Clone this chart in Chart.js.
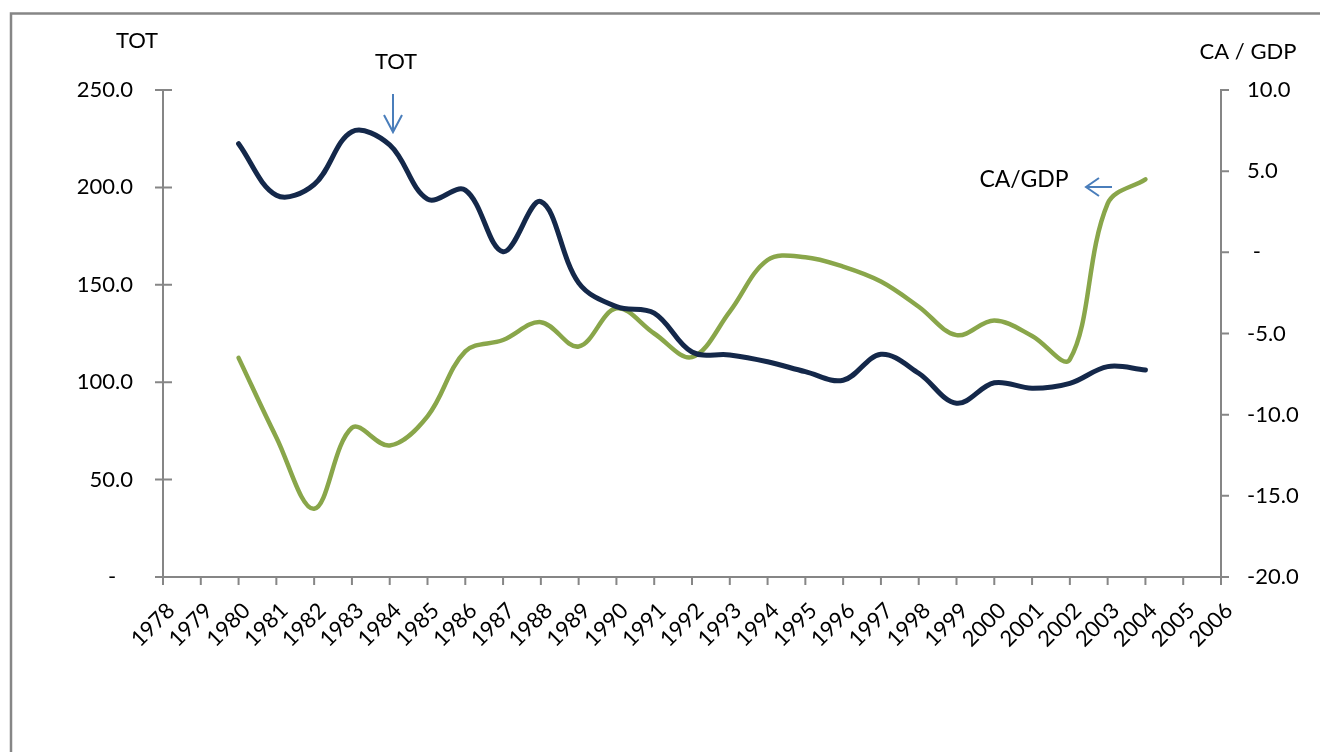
<!DOCTYPE html>
<html>
<head>
<meta charset="utf-8">
<script src="https://cdn.jsdelivr.net/npm/chart.js@4.4.1/dist/chart.umd.min.js"></script>
<style>
  body { margin: 0; background: #fff; }
  canvas { display: block; }
</style>
</head>
<body>
<canvas id="myChart" width="1320" height="752"></canvas>
<script>
// categories on the axis
var years = ['1978','1979','1980','1981','1982','1983','1984','1985','1986','1987',
  '1988','1989','1990','1991','1992','1993','1994','1995','1996','1997','1998',
  '1999','2000','2001','2002','2003','2004','2005','2006'];
// data runs 1980 - 2004
var firstYear = '1980';
var tot = [222.4, 196, 201.5, 228.6, 221.8, 194, 198.6, 167, 192.7, 151, 138.8,
  135.5, 115.5, 114, 110.5, 105.4, 101, 114.3, 104.6, 89.2, 99.7, 96.9, 99.4, 108, 106.3];
var caGdp = [-6.5, -11.4, -15.8, -10.8, -11.9, -10.1, -6.1, -5.4, -4.3, -5.8, -3.45,
  -5.0, -6.45, -3.65, -0.47, -0.3, -0.88, -1.8, -3.35, -5.1, -4.2, -5.15, -6.6, 3.0, 4.5];
var totTicks = [0, 50, 100, 150, 200, 250];
var caTicks = [-20, -15, -10, -5, 0, 5, 10];

var GREY = '#868686';
var FONT = 'Lato';

// pad a series out so it lines up with the years
function pad(arr) {
  var out = years.map(function() { return null; });
  var start = years.indexOf(firstYear);
  arr.forEach(function(v, i) { out[start + i] = v; });
  return out;
}

function fmt(v) {
  // excel style "-" for zero
  return v === 0 ? '-' : v.toFixed(1);
}

// tick marks, slanted year labels, titles + arrows
var extras = {
  id: 'extras',
  afterDraw: function(c) {
    var ctx = c.ctx;
    var x = c.scales.x, y = c.scales.y, y1 = c.scales.y1;
    ctx.save();
    ctx.strokeStyle = GREY;
    ctx.lineWidth = 2;
    ctx.beginPath();
    x.ticks.forEach(function(t, i) {
      var px = x.getPixelForTick(i);
      ctx.moveTo(px, x.top); ctx.lineTo(px, x.top + 8);
    });
    y.ticks.forEach(function(t, i) {
      var py = y.getPixelForTick(i);
      ctx.moveTo(y.right - 8, py); ctx.lineTo(y.right + 9, py);
    });
    y1.ticks.forEach(function(t, i) {
      var py = y1.getPixelForTick(i);
      ctx.moveTo(y1.left, py); ctx.lineTo(y1.left + 8, py);
    });
    ctx.stroke();

    // year labels, slanted 45deg, ending just right of the tick
    ctx.fillStyle = '#000';
    ctx.font = '22px ' + FONT;
    ctx.textAlign = 'right';
    ctx.textBaseline = 'middle';
    x.ticks.forEach(function(t, i) {
      ctx.save();
      ctx.translate(x.getPixelForTick(i) + 8, x.top + 30);
      ctx.rotate(-Math.PI / 4);
      ctx.fillText(years[i], 0, 0);
      ctx.restore();
    });

    // frame round the chart (right and bottom edges fall off the picture)
    ctx.lineWidth = 2.5;
    ctx.strokeRect(11, 13.5, 1400, 800);

    ctx.font = '22px ' + FONT;
    ctx.textAlign = 'center';
    ctx.fillText('TOT', 137, 41);
    ctx.fillText('CA / GDP', 1248, 52);
    ctx.fillText('TOT', 396, 62);
    ctx.font = '23px ' + FONT;
    ctx.fillText('CA/GDP', 1024, 180);

    // arrows
    ctx.strokeStyle = '#4a7ebb';
    ctx.lineWidth = 2;
    ctx.beginPath();
    ctx.moveTo(393, 94); ctx.lineTo(393, 132);
    ctx.moveTo(384, 115); ctx.lineTo(393, 132); ctx.lineTo(402, 115);
    ctx.moveTo(1112, 187); ctx.lineTo(1086, 187);
    ctx.moveTo(1099, 178); ctx.lineTo(1086, 187); ctx.lineTo(1099, 196);
    ctx.stroke();
    ctx.restore();
  }
};

var ctx = document.getElementById('myChart').getContext('2d');
var chart = new Chart(ctx, {
  type: 'line',
  data: {
    labels: years,
    datasets: [
      { label: 'TOT', data: pad(tot), yAxisID: 'y', borderColor: '#14284a',
        borderWidth: 5, pointRadius: 0, tension: 0.36, borderCapStyle: 'round' },
      { label: 'CA/GDP', data: pad(caGdp), yAxisID: 'y1', borderColor: '#89a64a',
        borderWidth: 4.5, pointRadius: 0, tension: 0.36, borderCapStyle: 'round' }
    ]
  },
  options: {
    responsive: false,
    animation: false,
    devicePixelRatio: 1,
    layout: { padding: { top: 90, left: 0, right: 0, bottom: 0 } },
    plugins: { legend: { display: false }, tooltip: { enabled: false } },
    scales: {
      x: {
        offset: false,
        grid: { drawOnChartArea: false, drawTicks: false },
        border: { display: true, color: GREY, width: 2 },
        ticks: { display: false, autoSkip: false },
        afterFit: function(s) { s.height = 175; }
      },
      y: {
        position: 'left',
        min: 0, max: 250,
        afterBuildTicks: function(s) { s.ticks = totTicks.map(function(v) { return { value: v }; }); },
        grid: { drawOnChartArea: false, drawTicks: false },
        border: { display: true, color: GREY, width: 2 },
        ticks: { color: '#000', font: { family: FONT, size: 22 }, padding: 30,
          callback: function(v) { return v === 0 ? '-   ' : fmt(v); } },
        afterFit: function(s) { s.width = 163; }
      },
      y1: {
        position: 'right',
        min: -20, max: 10,
        afterBuildTicks: function(s) { s.ticks = caTicks.map(function(v) { return { value: v }; }); },
        grid: { drawOnChartArea: false, drawTicks: false },
        border: { display: true, color: GREY, width: 2 },
        ticks: { color: '#000', font: { family: FONT, size: 22 }, padding: 26,
          callback: function(v) { return v === 0 ? ' -' : fmt(v); } },
        afterFit: function(s) { s.width = 99; }
      }
    }
  },
  plugins: [extras]
});
</script>
</body>
</html>
